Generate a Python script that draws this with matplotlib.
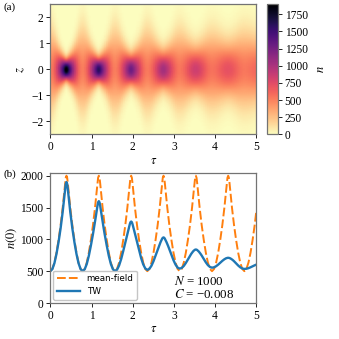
import numpy as np
import matplotlib
matplotlib.use("Agg")
import matplotlib.pyplot as plt

plt.rcParams['font.family'] = ['Liberation Serif', 'DejaVu Serif']
plt.rcParams['mathtext.fontset'] = 'stix'
plt.rcParams['font.size'] = 8.3

# ---- data ----
N_atoms = 1000
tau = [0, .05, .1, .15, .2, .25, .28, .3, .32, .34, .36, .375, .3925, .41, .425, .445, .465, .485, .505, .535, .585, .635, .685, .735,
       .785, .835, .885, .935, .985, 1.035, 1.065, 1.085, 1.105, 1.125, 1.145, 1.16, 1.1775, 1.195, 1.21, 1.23, 1.25, 1.27, 1.29, 1.32, 1.37, 1.42, 1.47, 1.52,
       1.57, 1.62, 1.67, 1.72, 1.77, 1.82, 1.85, 1.87, 1.89, 1.91, 1.93, 1.945, 1.9625, 1.98, 1.995, 2.015, 2.035, 2.055, 2.075, 2.105, 2.155, 2.205, 2.255, 2.305,
       2.355, 2.405, 2.455, 2.505, 2.555, 2.605, 2.635, 2.655, 2.675, 2.695, 2.715, 2.73, 2.7475, 2.765, 2.78, 2.8, 2.82, 2.84, 2.86, 2.89, 2.94, 2.99, 3.04, 3.09,
       3.14, 3.19, 3.24, 3.29, 3.34, 3.39, 3.42, 3.44, 3.46, 3.48, 3.5, 3.515, 3.5325, 3.55, 3.565, 3.585, 3.605, 3.625, 3.645, 3.675, 3.725, 3.775, 3.825, 3.875,
       3.925, 3.975, 4.025, 4.075, 4.125, 4.175, 4.205, 4.225, 4.245, 4.265, 4.285, 4.3, 4.3175, 4.335, 4.35, 4.37, 4.39, 4.41, 4.43, 4.46, 4.51, 4.56, 4.61, 4.66,
       4.71, 4.76, 4.81, 4.86, 4.91, 4.96, 4.99, 5.0]

n0_meanfield = [500, 535, 635, 790, 990, 1221, 1382, 1495, 1618, 1750, 1884, 1967, 2000, 1967, 1884, 1750, 1618, 1495, 1382, 1221, 990, 790, 635, 535,
                500, 535, 635, 790, 990, 1221, 1382, 1495, 1618, 1750, 1884, 1967, 2000, 1967, 1884, 1750, 1618, 1495, 1382, 1221, 990, 790, 635, 535,
                500, 535, 635, 790, 990, 1221, 1382, 1495, 1618, 1750, 1884, 1967, 2000, 1967, 1884, 1750, 1618, 1495, 1382, 1221, 990, 790, 635, 535,
                500, 535, 635, 790, 990, 1221, 1382, 1495, 1618, 1750, 1884, 1967, 2000, 1967, 1884, 1750, 1618, 1495, 1382, 1221, 990, 790, 635, 535,
                500, 535, 635, 790, 990, 1221, 1382, 1495, 1618, 1750, 1884, 1967, 2000, 1967, 1884, 1750, 1618, 1495, 1382, 1221, 990, 790, 635, 535,
                500, 535, 635, 790, 990, 1221, 1382, 1495, 1618, 1750, 1884, 1967, 2000, 1967, 1884, 1750, 1618, 1495, 1382, 1221, 990, 790, 635, 535,
                500, 535, 635, 790, 990, 1221, 1382, 1439]

n0_tw = [500, 533, 626, 771, 957, 1173, 1323, 1429, 1543, 1667, 1792, 1869, 1900, 1869, 1792, 1667, 1543, 1429, 1323, 1173, 957, 771, 626, 533,
         500, 530, 613, 741, 902, 1080, 1197, 1277, 1359, 1445, 1529, 1580, 1600, 1580, 1529, 1445, 1359, 1277, 1197, 1080, 902, 741, 613, 530,
         500, 523, 590, 690, 815, 948, 1030, 1083, 1136, 1190, 1239, 1268, 1280, 1269, 1240, 1192, 1140, 1088, 1036, 956, 827, 705, 607, 543,
         520, 537, 585, 657, 746, 837, 890, 923, 955, 984, 1010, 1024, 1030, 1025, 1010, 985, 957, 927, 895, 844, 757, 672, 603, 556,
         540, 551, 582, 629, 684, 740, 771, 790, 806, 821, 832, 838, 840, 838, 832, 821, 808, 792, 774, 745, 692, 639, 595, 566,
         555, 561, 578, 603, 633, 662, 678, 687, 695, 702, 707, 709, 710, 709, 706, 701, 693, 684, 674, 656, 623, 589, 561, 542,
         535, 538, 547, 561, 577, 592, 600, 603]

z_ticks = [-2, -1, 0, 1, 2]
tau_ticks = [0, 1, 2, 3, 4, 5]
n_ticks = [0, 500, 1000, 1500, 2000]
cbar_ticks = [0, 250, 500, 750, 1000, 1250, 1500, 1750]

# ---- density map n(z, tau) built from the central density (Gaussian profile, atom number held fixed) ----
width_scale = 1.25
tau_a = np.array(tau)
n0_a = np.array(n0_tw, dtype=float)
z = np.linspace(-2.5, 2.5, 251)
sigma = width_scale * N_atoms / (np.sqrt(2 * np.pi) * n0_a)
dens = n0_a[None, :] * np.exp(-z[:, None] ** 2 / (2 * sigma[None, :] ** 2))

W, H = 339, 339
fig = plt.figure(figsize=(W / 100, H / 100), dpi=100)

def rect(x0, y0, x1, y1):
    return [x0 / W, 1 - y1 / H, (x1 - x0) / W, (y1 - y0) / H]

spine_col = '0.45'

ax1 = fig.add_axes(rect(50.3, 4, 256.3, 134.3))
mesh = ax1.pcolormesh(tau_a, z, dens, cmap='magma_r', vmin=0, vmax=1900, shading='gouraud')
ax1.set_xlim(0, 5)
ax1.set_ylim(-2.5, 2.5)
ax1.set_xticks(tau_ticks)
ax1.set_yticks(z_ticks)
ax1.set_yticklabels(['\u22122', '\u22121', '0', '1', '2'])
ax1.set_xlabel(r'$\tau$', labelpad=1, fontsize=9)
ax1.set_ylabel(r'$z$', labelpad=3, fontsize=9)

cax = fig.add_axes(rect(266.7, 4, 277.7, 134.3))
cb = fig.colorbar(mesh, cax=cax, ticks=cbar_ticks)
cb.set_label(r'$n$', labelpad=5, fontsize=9)
cb.outline.set_edgecolor(spine_col)

ax2 = fig.add_axes(rect(50.3, 172.7, 256.3, 303))
ax2.plot(tau, n0_meanfield, color='#ff7f0e', lw=1.4, ls=(0, (4.5, 1.6)), label='mean-field')
ax2.plot(tau, n0_tw, color='#1f77b4', lw=1.7, label='TW')
ax2.set_xlim(0, 5)
ax2.set_ylim(0, 2047)
ax2.set_xticks(tau_ticks)
ax2.set_yticks(n_ticks)
ax2.set_xlabel(r'$\tau$', labelpad=1, fontsize=9)
ax2.set_ylabel(r'$n(0)$', labelpad=1, fontsize=9)
leg = ax2.legend(loc='lower left', prop={'family': 'DejaVu Sans', 'size': 6.3},
                 handlelength=2.6, borderaxespad=0.35, framealpha=0.9, fancybox=True)
leg.get_frame().set_edgecolor('0.75')
ax2.text(3.0, 290, '$N$ = 1000', fontsize=9.3)
ax2.text(3.0, 80, '$C$ = \u22120.008', fontsize=9.3)

for ax in (ax1, ax2, cax):
    for s in ax.spines.values():
        s.set_edgecolor(spine_col)
        s.set_linewidth(0.9)
    ax.tick_params(length=3, width=0.6, pad=2, colors='black')

fig.text(3 / W, 1 - 10 / H, '(a)', fontsize=8)
fig.text(3 / W, 1 - 177 / H, '(b)', fontsize=8)

fig.savefig('out.png', dpi=100)
